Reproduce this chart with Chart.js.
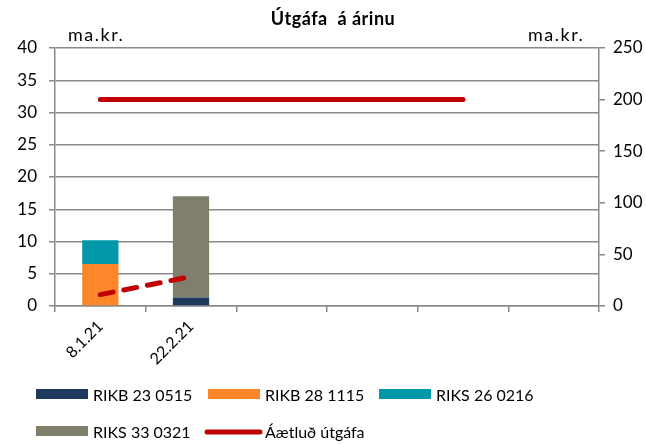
<!DOCTYPE html>
<html>
<head>
<meta charset="utf-8">
<script src="https://cdn.jsdelivr.net/npm/chart.js@4"></script>
<style>
  html, body { margin: 0; padding: 0; background: #fff; }
  #wrap { width: 646px; height: 445px; }
</style>
</head>
<body>
<div id="wrap"><canvas id="myChart" width="646" height="445"></canvas></div>
<script>
const labels = ["8.1.21", "22.2.21", "", "", "", ""];

// útgefið eftir flokkum, ma.kr. (vinstri ás)
const rikb230515 = [0, 1.3, null, null, null, null];
const rikb281115 = [6.5, 0, null, null, null, null];
const riks260216 = [3.7, 0, null, null, null, null];
const riks330321 = [0, 15.7, null, null, null, null];

// hægri ás
const aaetlud = [200, 200, 200, 200, 200, null];
const uppsafnad = [11, 28.5, null, null, null, null];

const leftTicks = { min: 0, max: 40, step: 5 };
const rightTicks = { min: 0, max: 250, step: 50 };

const FONT = 'Lato';
const gridColor = '#898989';

const ctx = document.getElementById('myChart');

function barSet(label, data, color) {
    return {
        type: 'bar',
        label: label,
        data: data,
        backgroundColor: color,
        borderWidth: 0,
        yAxisID: 'y',
        order: 1,
        barPercentage: 0.4,
        categoryPercentage: 1.0,
    };
}

const chartData = {
    labels: labels,
    datasets: [
        barSet('RIKB 23 0515', rikb230515, '#1f3a5c'),
        barSet('RIKB 28 1115', rikb281115, '#fd852a'),
        barSet('RIKS 26 0216', riks260216, '#0098a9'),
        barSet('RIKS 33 0321', riks330321, '#7f7f6c'),
        {
            type: 'line',
            label: 'Áætluð útgáfa',
            data: aaetlud,
            borderColor: '#c00000',
            backgroundColor: '#c00000',
            borderWidth: 5,
            borderCapStyle: 'round',
            pointRadius: 0,
            yAxisID: 'y1',
            order: 0,
        },
        {
            type: 'line',
            label: 'Útgefið',
            data: uppsafnad,
            borderColor: '#c00000',
            borderWidth: 5,
            borderDash: [13, 11],
            borderCapStyle: 'round',
            pointRadius: 0,
            yAxisID: 'y1',
            order: 0,
            hideInLegend: true,
        },
    ]
};

// titill, einingar og skýringar teiknaðar beint á strigann
const extras = {
    id: 'extras',
    afterDraw(chart) {
        const c = chart.ctx;
        c.save();
        c.fillStyle = '#000';
        c.textBaseline = 'alphabetic';

        c.font = 'bold 18px ' + FONT;
        c.letterSpacing = '0.5px';
        c.textAlign = 'center';
        c.fillText('Útgáfa  á árinu', 333, 25);

        c.font = '18px ' + FONT;
        c.letterSpacing = '1.5px';
        c.textAlign = 'left';
        c.fillText('ma.kr.', 68, 41);
        c.fillText('ma.kr.', 528, 41);
        c.letterSpacing = '0px';

        const cols = [36, 208, 379];
        const rows = [394, 431];
        const items = chart.data.datasets.filter(d => !d.hideInLegend);
        c.font = '16px ' + FONT;
        items.forEach((d, i) => {
            const x = cols[i % 3];
            const y = rows[Math.floor(i / 3)];
            if (d.type === 'line') {
                c.strokeStyle = d.borderColor;
                c.lineWidth = 5;
                c.lineCap = 'round';
                c.beginPath();
                c.moveTo(x - 1, y + 1);
                c.lineTo(x + 52, y + 1);
                c.stroke();
            } else {
                c.fillStyle = d.backgroundColor;
                c.fillRect(x, y - 5, 52, 10);
            }
            c.fillStyle = '#000';
            c.fillText(d.label, x + 57, y + 7);
        });
        c.restore();
    }
};

const chart = new Chart(ctx, {
    data: chartData,
    plugins: [extras],
    options: {
        responsive: false,
        animation: false,
        devicePixelRatio: 1,
        layout: { padding: { top: 48, left: 0, right: 0, bottom: 0 } },
        plugins: {
            legend: { display: false },
            title: { display: false },
            tooltip: { enabled: false },
        },
        scales: {
            x: {
                stacked: true,
                offset: true,
                grid: {
                    offset: true,
                    drawOnChartArea: false,
                    drawTicks: true,
                    tickLength: 6,
                    color: gridColor,
                    lineWidth: 1.5,
                },
                border: { color: gridColor, width: 1.5 },
                ticks: {
                    color: '#000',
                    font: { family: FONT, size: 16 },
                    minRotation: 45,
                    maxRotation: 45,
                    padding: 5,
                    autoSkip: false,
                },
                afterFit(scale) { scale.height = 139; },
            },
            y: {
                stacked: true,
                position: 'left',
                min: leftTicks.min,
                max: leftTicks.max,
                grid: {
                    color: gridColor,
                    lineWidth: 1.5,
                    tickLength: 6,
                },
                border: { color: gridColor, width: 1.5 },
                ticks: {
                    stepSize: leftTicks.step,
                    color: '#000',
                    font: { family: FONT, size: 17 },
                    padding: 12,
                },
                afterFit(scale) { scale.width = 55; },
            },
            y1: {
                position: 'right',
                min: rightTicks.min,
                max: rightTicks.max,
                grid: {
                    drawOnChartArea: false,
                    color: gridColor,
                    lineWidth: 1.5,
                    tickLength: 6,
                },
                border: { color: gridColor, width: 1.5 },
                ticks: {
                    stepSize: rightTicks.step,
                    color: '#000',
                    font: { family: FONT, size: 17 },
                    padding: 8,
                },
                afterFit(scale) { scale.width = 47; },
            },
        }
    }
});
</script>
</body>
</html>
